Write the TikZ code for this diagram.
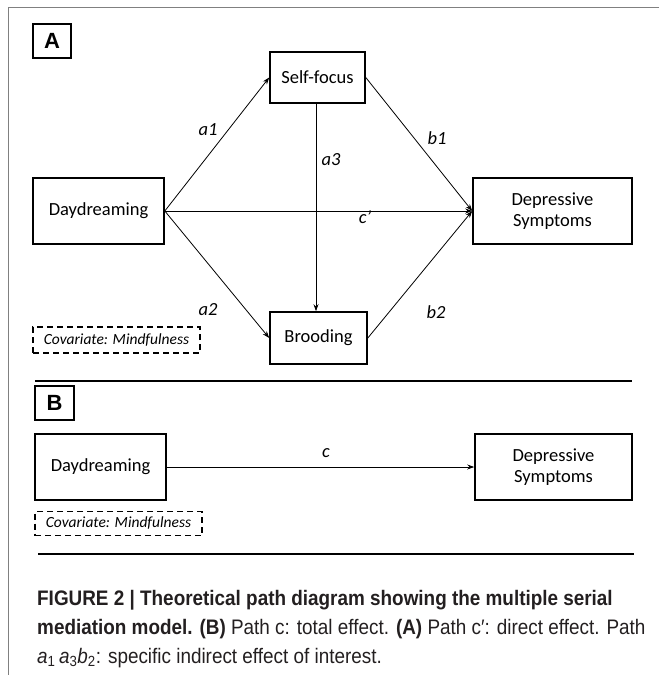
\documentclass[tikz,border=0pt]{standalone}
\usepackage{fontspec}
\setmainfont{Carlito}
\newfontfamily\capfont[FakeStretch=0.9]{Liberation Sans}
\newfontfamily\labfont{Liberation Sans}
\usetikzlibrary{arrows.meta}
\definecolor{frame}{RGB}{128,128,128}
\definecolor{captext}{RGB}{35,31,32}
\begin{document}
\begin{tikzpicture}[x=1pt,y=-1pt,
  box/.style={draw, line width=1.6pt, inner sep=0pt, align=center,
              font=\fontsize{18.5}{21.5}\selectfont},
  cov/.style={draw, dash pattern=on 6pt off 4pt, line width=1.5pt, inner sep=0pt,
              font=\fontsize{15.5}{18}\selectfont\itshape},
  lbox/.style={draw, line width=1.6pt, inner sep=0pt,
               font=\labfont\bfseries\fontsize{22}{24}\selectfont},
  arr/.style={-{Stealth[length=7pt,width=5pt]}, line width=0.8pt},
  plab/.style={font=\fontsize{18.5}{20}\selectfont\itshape, inner sep=0pt},
  sepline/.style={line width=1.5pt}]
\useasboundingbox (0,0) rectangle (659,675);
% outer frame (clipped on right and bottom)
\coordinate (fr1) at (659,7);
\coordinate (fr2) at (8,7);
\coordinate (fr3) at (8,675);
\draw[frame, line width=1pt] (fr1) -- (fr2) -- (fr3);

% ---------- Panel A ----------
\node[lbox, minimum width=38pt, minimum height=34pt] (Abox) at (52,41) {A};
\node[box, minimum width=95pt, minimum height=51pt] (SF) at (317.5,77.5) {Self-focus};
\node[box, minimum width=131pt, minimum height=66pt] (DD) at (98.5,211) {Daydreaming};
\node[box, minimum width=159pt, minimum height=66pt] (DS) at (552.5,211) {Depressive\\Symptoms};
\node[box, minimum width=97pt, minimum height=52pt] (BR) at (318.5,338) {Brooding};
\node[cov, minimum width=167pt, minimum height=26pt] (covA) at (116.5,340) {Covariate: Mindfulness};

\draw[arr] (DD.east) -- (SF.west);
\draw[arr] (SF.east) -- (DS.west);
\draw[arr] (DD.east) -- (DS.west);
\draw[arr] (DD.east) -- (BR.west);
\draw[arr] (BR.east) -- (DS.west);
\draw[arr] ([xshift=-1.5pt]SF.south) -- ([xshift=-1.5pt]SF.south |- BR.north);

\node[plab] (la1) at (208,130) {a1};
\node[plab] (la2) at (208,310) {a2};
\node[plab] (la3) at (331,160) {a3};
\node[plab] (lb1) at (437,138) {b1};
\node[plab] (lb2) at (436,312) {b2};
\node[plab] (lc1) at (365,217) {c\char"27};

\coordinate (s1a) at (35,381);
\coordinate (s1b) at (632,381);
\draw[sepline] (s1a) -- (s1b);

% ---------- Panel B ----------
\node[lbox, minimum width=39pt, minimum height=34pt] (Bbox) at (54.5,403) {B};
\node[box, minimum width=131pt, minimum height=66pt] (DD2) at (100.5,467) {Daydreaming};
\node[box, minimum width=157pt, minimum height=66pt] (DS2) at (553.5,467) {Depressive\\Symptoms};
\node[cov, minimum width=167pt, minimum height=24pt] (covB) at (118.5,523.5) {Covariate: Mindfulness};
\draw[arr] (DD2.east) -- (DS2.west);
\node[plab] (lc) at (326,453) {c};

\coordinate (s2a) at (38,554);
\coordinate (s2b) at (634,554);
\draw[sepline] (s2a) -- (s2b);

% ---------- Caption ----------
\node[anchor=north west, inner sep=0pt, align=left, text=captext,
      font=\capfont\fontsize{21}{29}\selectfont] (cap) at (37,590)
 {{\bfseries FIGURE 2 | Theoretical path diagram showing the multiple serial}\\
  {\bfseries mediation model. (B)} Path c: total effect. {\bfseries (A)} Path c′: direct effect. Path\\
  {\itshape a}\textsubscript{1}\,{\itshape a}\textsubscript{3}{\itshape b}\textsubscript{2}: specific indirect effect of interest.};
\end{tikzpicture}
\end{document}
